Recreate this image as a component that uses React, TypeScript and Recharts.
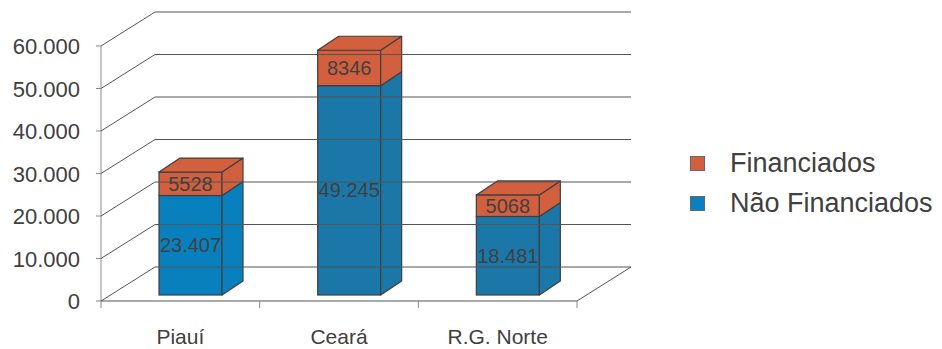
import React from 'react';
import { BarChart, Bar, XAxis, YAxis, Legend, LabelList, Cell } from 'recharts';

const categories = ['Piauí', 'Ceará', 'R.G. Norte'];
const naoFinanciados = [23407, 49245, 18481];
const financiados = [5528, 8346, 5068];
const yTicks = [0, 10000, 20000, 30000, 40000, 50000, 60000];
const legendOrder = ['Financiados', 'Não Financiados'];

const chartData = categories.map((name, i) => ({
    name,
    nao: naoFinanciados[i],
    fin: financiados[i],
}));

const FONT = '"Liberation Sans", Arial, Helvetica, sans-serif';
const TEXT = '#404040';
const EDGE = '#3f3f3f';
const GRID = '#555555';
const ORANGE = '#d2603f';
const BLUES = ['#0880bd', '#1b77a8', '#1b77a8'];
const LEGEND_BLUE = '#0a80c0';

// plot area in svg coords (wrapper sits at page 0,0)
const MARGIN = { top: 46, right: 365, bottom: 8, left: 8 };
const PLOT_L = 101;
const PLOT_R = 577;
const PLOT_B = 301;
// 3D offsets
const WALL_DX = 54;
const WALL_DY = -34;
const BAR_DX = 10;
const BAR_DY = -6;
const DEPTH_DX = 21;
const DEPTH_DY = -14;

const dotted = (v: number) => String(v).replace(/\B(?=(\d{3})+(?!\d))/g, '.');

const YTick = (props: any) => {
    const { y, payload } = props;
    const v = payload.value as number;
    const by = y + WALL_DY;
    return (
        <g>
            <line x1={PLOT_L - 5} y1={y} x2={PLOT_L} y2={y} stroke="#888" />
            <polyline
                points={`${PLOT_L},${y} ${PLOT_L + WALL_DX},${by} ${PLOT_R + WALL_DX},${by}`}
                fill="none"
                stroke={GRID}
                strokeWidth={1}
            />
            {v === 0 && <line x1={PLOT_R} y1={y} x2={PLOT_R + WALL_DX} y2={by} stroke={GRID} />}
            <text x={PLOT_L - 21} y={y + 8} textAnchor="end" fontFamily={FONT} fontSize={22} fill={TEXT}>
                {dotted(v)}
            </text>
        </g>
    );
};

const XTick = (props: any) => {
    const { x, payload, index } = props;
    const half = payload.offset || (PLOT_R - PLOT_L) / categories.length / 2;
    const i = index ?? payload.index ?? 0;
    return (
        <g>
            <line x1={x - half} y1={PLOT_B} x2={x - half} y2={PLOT_B + 7} stroke="#888" />
            {i === categories.length - 1 && (
                <line x1={x + half} y1={PLOT_B} x2={x + half} y2={PLOT_B + 7} stroke="#888" />
            )}
            <text x={x} y={344} textAnchor="middle" fontFamily={FONT} fontSize={21} fill={TEXT}>
                {payload.value}
            </text>
        </g>
    );
};

const Box3D = (props: any) => {
    const { x, y, width, height, fill, withTop } = props;
    if (!height || !width) return null;
    const x0 = x + BAR_DX;
    const y0 = y + BAR_DY;
    const x1 = x0 + width;
    const y1 = y0 + height;
    const side = `${x1},${y1} ${x1 + DEPTH_DX},${y1 + DEPTH_DY} ${x1 + DEPTH_DX},${y0 + DEPTH_DY} ${x1},${y0}`;
    const top = `${x0},${y0} ${x0 + DEPTH_DX},${y0 + DEPTH_DY} ${x1 + DEPTH_DX},${y0 + DEPTH_DY} ${x1},${y0}`;
    return (
        <g>
            <rect x={x0} y={y0} width={width} height={height} fill={fill} stroke={EDGE} strokeWidth={1.2} />
            <polygon points={side} fill={fill} stroke={EDGE} strokeWidth={1.2} strokeLinejoin="round" />
            {withTop && <polygon points={top} fill={fill} stroke={EDGE} strokeWidth={1.2} strokeLinejoin="round" />}
        </g>
    );
};

const makeLabel = (fmt: (v: number) => string) => (p: any) => {
    const vb = p.viewBox || {};
    const x = p.x ?? vb.x;
    const y = p.y ?? vb.y;
    const w = p.width ?? vb.width;
    const h = p.height ?? vb.height;
    if (x == null || p.value == null) return null;
    return (
        <text
            x={x + BAR_DX + w / 2}
            y={y + BAR_DY + h / 2}
            textAnchor="middle"
            dominantBaseline="central"
            fontFamily={FONT}
            fontSize={20}
            fill={TEXT}
        >
            {fmt(Number(p.value))}
        </text>
    );
};

const LegendContent = (props: any) => {
    const payload: any[] = props.payload || [];
    const items = legendOrder.map((label) => {
        const hit = payload.find((e: any) => e.value === label);
        return { label, color: hit ? hit.color : label === 'Financiados' ? ORANGE : LEGEND_BLUE };
    });
    return (
        <div style={{ fontFamily: FONT, fontSize: 27, color: TEXT }}>
            {items.map((it) => (
                <div key={it.label} style={{ display: 'flex', alignItems: 'center', height: 40, whiteSpace: 'nowrap' }}>
                    <span
                        style={{
                            display: 'inline-block',
                            width: 15,
                            height: 15,
                            boxSizing: 'border-box',
                            background: it.color,
                            border: '1px solid #666',
                            marginRight: 25,
                        }}
                    />
                    <span>{it.label}</span>
                </div>
            ))}
        </div>
    );
};

export default function App() {
    return (
        <div style={{ position: 'absolute', left: 0, top: 0, width: 942, height: 349, background: '#fff' }}>
            <BarChart width={942} height={349} data={chartData} margin={MARGIN}>
                <YAxis
                    width={93}
                    domain={[0, 60000]}
                    ticks={yTicks}
                    interval={0}
                    axisLine={{ stroke: '#8a8a8a' }}
                    tickLine={false}
                    tick={(p: any) => <YTick {...p} />}
                    zIndex={0}
                />
                <XAxis
                    dataKey="name"
                    height={40}
                    interval={0}
                    axisLine={{ stroke: GRID }}
                    tickLine={false}
                    tick={(p: any) => <XTick {...p} />}
                    zIndex={0}
                />
                <Bar
                    dataKey="nao"
                    name="Não Financiados"
                    stackId="a"
                    barSize={63}
                    fill={LEGEND_BLUE}
                    isAnimationActive={false}
                    shape={(p: any) => <Box3D {...p} withTop={false} />}
                >
                    {chartData.map((_, i) => (
                        <Cell key={`n-${i}`} fill={BLUES[i]} />
                    ))}
                    <LabelList dataKey="nao" content={makeLabel(dotted)} />
                </Bar>
                <Bar
                    dataKey="fin"
                    name="Financiados"
                    stackId="a"
                    barSize={63}
                    fill={ORANGE}
                    isAnimationActive={false}
                    shape={(p: any) => <Box3D {...p} withTop={true} />}
                >
                    {chartData.map((_, i) => (
                        <Cell key={`f-${i}`} fill={ORANGE} />
                    ))}
                    <LabelList dataKey="fin" content={makeLabel((v) => String(v))} />
                </Bar>
                <Legend
                    layout="vertical"
                    align="center"
                    verticalAlign="middle"
                    content={(p: any) => <LegendContent {...p} />}
                    wrapperStyle={{ left: 690, top: 143, width: 252 }}
                />
            </BarChart>
        </div>
    );
}
